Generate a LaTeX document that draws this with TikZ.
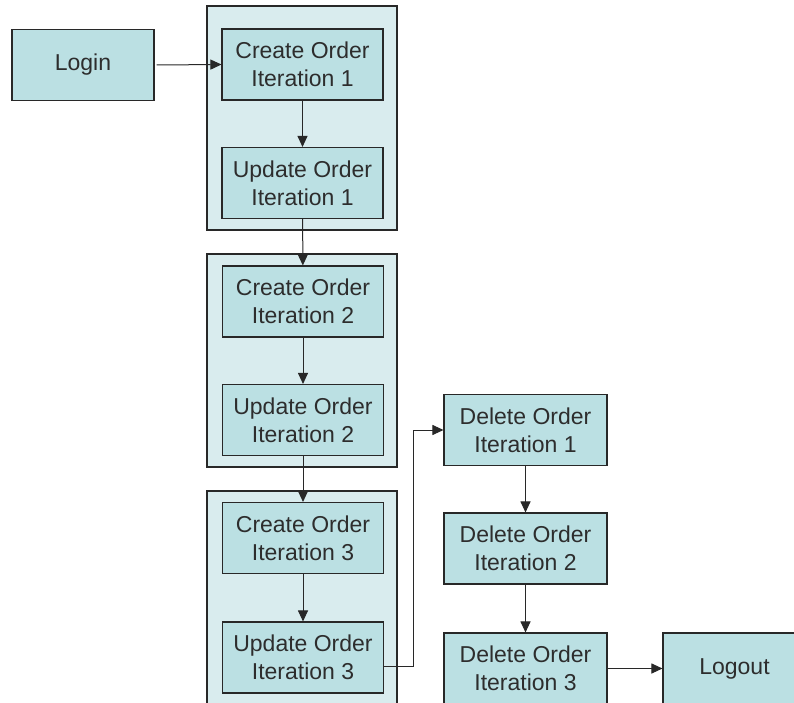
\documentclass[tikz,border=0pt]{standalone}
\usepackage{fontspec}
\setmainfont{Liberation Sans}
\usetikzlibrary{arrows.meta}
\definecolor{boxfill}{RGB}{187,224,227}
\definecolor{grpfill}{RGB}{217,236,238}
\definecolor{linec}{RGB}{40,40,40}
\definecolor{textc}{RGB}{45,45,45}
\tikzset{
  stepbox/.style={draw=linec, line width=1.1pt, fill=boxfill, inner sep=0pt,
    minimum width=161pt, minimum height=71pt, align=center, text=textc,
    font=\fontsize{23}{28}\selectfont},
  grpbox/.style={draw=linec, line width=1.1pt, fill=grpfill, inner sep=0pt,
    minimum width=190pt},
  conn/.style={draw=linec, line width=1pt, -{Triangle[length=11pt,width=10pt]}}
}
\begin{document}
\begin{tikzpicture}[x=1pt,y=-1pt]
\useasboundingbox (0,0) rectangle (794,703);
\clip (0,0) rectangle (794,703);
\fill[white] (0,0) rectangle (794,703);
% groups
\node[grpbox, minimum height=224pt] (g1) at (302,118) {};
\node[grpbox, minimum height=213pt] (g2) at (302,360.5) {};
\node[grpbox, minimum height=224pt] (g3) at (302,603) {};
% boxes
\node[stepbox, minimum width=142pt] (login) at (83,65) {Login};
\node[stepbox] (c1) at (302.5,64.5) {Create Order\\Iteration 1};
\node[stepbox] (u1) at (302.5,183) {Update Order\\Iteration 1};
\node[stepbox] (c2) at (303,301.5) {Create Order\\Iteration 2};
\node[stepbox] (u2) at (303,420) {Update Order\\Iteration 2};
\node[stepbox] (c3) at (303,538) {Create Order\\Iteration 3};
\node[stepbox] (u3) at (303,657.5) {Update Order\\Iteration 3};
\node[stepbox, minimum width=163pt] (d1) at (525.5,430) {Delete Order\\Iteration 1};
\node[stepbox, minimum width=163pt] (d2) at (525.5,548.5) {Delete Order\\Iteration 2};
\node[stepbox, minimum width=163pt] (d3) at (525.5,668.5) {Delete Order\\Iteration 3};
\node[stepbox, minimum width=143pt] (logout) at (734.5,668.5) {Logout};
% connectors
\draw[conn] ([xshift=2pt]login.east) -- (c1.west);
\draw[conn] (c1) -- (u1);
\draw[conn] (u1) -- (c2);
\draw[conn] (c2) -- (u2);
\draw[conn] (u2) -- (c3);
\draw[conn] (c3) -- (u3);
\coordinate (ux) at ([yshift=-9pt]u3.east);
\draw[conn] (ux) -| (413,430) -- (d1.west);
\draw[conn] (d1) -- (d2);
\draw[conn] (d2) -- (d3);
\draw[conn] (d3) -- (logout);
\end{tikzpicture}
\end{document}
